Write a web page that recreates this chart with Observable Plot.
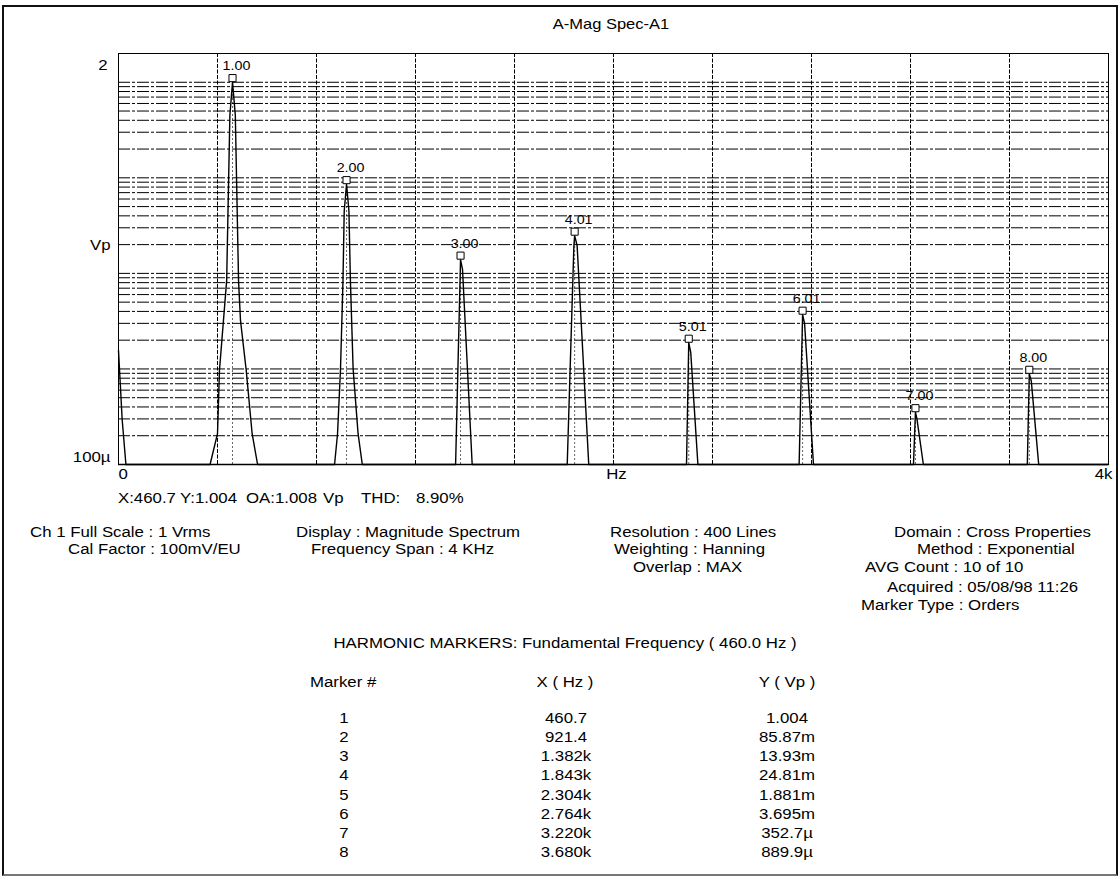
<!DOCTYPE html>
<html><head><meta charset="utf-8">
<script src="https://cdn.jsdelivr.net/npm/d3@7"></script>
<script src="https://cdn.jsdelivr.net/npm/@observablehq/plot@0.6"></script>
<style>
html,body{margin:0;padding:0;background:#fff;}
#page{position:relative;width:1120px;height:876px;overflow:hidden;font-family:"Liberation Sans",Arial,sans-serif;color:#000;background:#fff;}
#frame{position:absolute;left:2px;top:5px;width:1112px;height:867px;border:2px solid #111;border-bottom-color:#777;}
.t{position:absolute;white-space:pre;line-height:1;font-size:14px;}
#chart{position:absolute;left:0;top:0;}
</style></head>
<body>
<div id="page"><div id="frame"></div><div id="chart"></div></div>
<script>
// ---- data ----
const chartTitle = "A-Mag Spec-A1";
// spectrum trace (Hz, Vp); values below the 100µ floor run along the bottom
const specFreq = [0, 15, 30,
  370, 400, 408, 424, 437, 450, 460.7, 472, 485, 493, 516, 540, 562,
  873, 885, 897, 907, 912, 921.4, 931, 937, 948, 968, 985,
  1362, 1382, 1390, 1429,
  1813, 1840, 1843, 1853, 1900,
  2295, 2304, 2312, 2341,
  2750, 2764, 2772, 2808,
  3212, 3220, 3226, 3252,
  3672, 3680, 3688, 3718,
  4000];
const specAmp = [1.56e-3, 2.9e-4, 1e-4,
  1e-4, 2.1e-4, 9.7e-4, 3.2e-3, 8.4e-3, 0.45, 1.004, 0.45, 8.4e-3, 3.2e-3, 9.7e-4, 2.1e-4, 1e-4,
  1e-4, 2.1e-4, 1.0e-3, 8.4e-3, 0.045, 0.0859, 0.045, 8.4e-3, 1.0e-3, 2.1e-4, 1e-4,
  1e-4, 0.01393, 0.011, 1e-4,
  1e-4, 0.0196, 0.02481, 0.0196, 1e-4,
  1e-4, 1.881e-3, 1.5e-3, 1e-4,
  1e-4, 3.695e-3, 3.0e-3, 1e-4,
  1e-4, 3.527e-4, 3.0e-4, 1e-4,
  1e-4, 8.899e-4, 7.5e-4, 1e-4,
  1e-4];
// harmonic markers
const markerNum = ["1","2","3","4","5","6","7","8"];
const markerFreq = [460.7, 921.4, 1382, 1843, 2304, 2764, 3220, 3680];
const markerAmp = [1.004, 85.87e-3, 13.93e-3, 24.81e-3, 1.881e-3, 3.695e-3, 352.7e-6, 889.9e-6];
const markerLabels = ["1.00","2.00","3.00","4.01","5.01","6.01","7.00","8.00"];
const tableX = ["460.7","921.4","1.382k","1.843k","2.304k","2.764k","3.220k","3.680k"];
const tableY = ["1.004","85.87m","13.93m","24.81m","1.881m","3.695m","352.7µ","889.9µ"];
// axes
const xDomain = [0, 4000];
const yDomain = [1e-4, 2];
const xGridValues = [400, 800, 1200, 1600, 2000, 2400, 2800, 3200, 3600];
const xTickValues = [0, 4000];
const xTickLabels = ["0", "4k"];
const xAxisLabel = "Hz";
const yTickValues = [2, 1e-4];
const yTickLabels = ["2", "100µ"];
const yAxisLabel = "Vp";
// readout & info
const readout = ["X:460.7", "Y:1.004", "OA:1.008", "Vp", "THD:", "8.90%"];
const infoCol1 = ["Ch 1 Full Scale : 1 Vrms", "Cal Factor : 100mV/EU"];
const infoCol2 = ["Display : Magnitude Spectrum", "Frequency Span : 4 KHz"];
const infoCol3 = ["Resolution : 400 Lines", "Weighting : Hanning", "Overlap : MAX"];
const infoCol4 = ["Domain : Cross Properties", "Method : Exponential", "AVG Count : 10 of 10", "Acquired : 05/08/98 11:26", "Marker Type : Orders"];
const tableTitle = "HARMONIC MARKERS: Fundamental Frequency ( 460.0 Hz )";
const tableHeaders = ["Marker #", "X ( Hz )", "Y ( Vp )"];

// ---- build ----
const spec = specFreq.map((f, i) => ({f, a: specAmp[i]}));
const markers = markerFreq.map((f, i) => ({f, a: markerAmp[i], label: markerLabels[i]}));
const yGrid = d3.scaleLog().domain(yDomain).ticks().filter(v => v <= 2 && v >= 1e-4);
const xTicks = xTickValues.map((v, i) => ({v, s: xTickLabels[i]}));

const chart = Plot.plot({
  width: 1120, height: 490,
  marginLeft: 118, marginRight: 12, marginTop: 53, marginBottom: 26,
  x: {domain: xDomain, axis: null},
  y: {type: "log", domain: yDomain, axis: null},
  style: {fontFamily: '"Liberation Sans", Arial, sans-serif', fontSize: "14px", background: "transparent", color: "#000", overflow: "visible"},
  marks: [
    Plot.ruleY(yGrid, {stroke: "#000", strokeWidth: 1, strokeDasharray: "12,2,3,2", strokeOpacity: 1}),
    Plot.ruleX(xGridValues, {stroke: "#000", strokeWidth: 1, strokeDasharray: "4,1.5", strokeOpacity: 1}),
    Plot.ruleX(markers, {x: "f", y1: 1e-4, y2: "a", stroke: "#000", strokeDasharray: "2,2", strokeOpacity: 0.6}),
    Plot.line(spec, {x: "f", y: "a", stroke: "#000", strokeWidth: 1.4}),
    Plot.frame({stroke: "#000", strokeWidth: 1}),
    Plot.ruleY([1e-4], {stroke: "#000", strokeWidth: 1.5}),
    Plot.dot(markers, {x: "f", y: "a", symbol: "square", r: 4, stroke: "#000", fill: "#fff", strokeWidth: 1, dy: -4}),
    Plot.text(markers, {x: "f", y: "a", text: "label", dy: -16, dx: 4, fontSize: 13}),
    Plot.text([xTicks[0]], {x: "v", text: "s", frameAnchor: "bottom", textAnchor: "start", dy: 14}),
    Plot.text([xTicks[1]], {x: "v", text: "s", frameAnchor: "bottom", textAnchor: "end", dx: 4, dy: 14}),
    Plot.text([xAxisLabel], {frameAnchor: "bottom", text: d => d, dy: 14, dx: 3}),
    Plot.text([yTickValues[0]], {y: d => d, text: () => yTickLabels[0], frameAnchor: "left", textAnchor: "end", dx: -11, dy: 12}),
    Plot.text([yTickValues[1]], {y: d => d, text: () => yTickLabels[1], frameAnchor: "left", textAnchor: "end", dx: -8, dy: -7}),
    Plot.text([yAxisLabel], {frameAnchor: "left", text: d => d, textAnchor: "end", dx: -8, dy: -13})
  ]
});
document.getElementById("chart").appendChild(chart);
// widen glyphs like the original instrument font (scale about each text's own anchor point)
chart.querySelectorAll("text").forEach(t => {
  const gf = t.closest("[font-size]");
  const fs = gf ? gf.getAttribute("font-size") : "14";
  const sx = fs === "13" ? 1.1 : 1.2;
  const tr = t.getAttribute("transform");
  if (tr) {
    t.setAttribute("transform", tr + ` scale(${sx},1)`);
  } else {
    const x = +(t.getAttribute("x") || 0);
    t.setAttribute("transform", `translate(${x},0) scale(${sx},1) translate(${-x},0)`);
  }
});

const page = document.getElementById("page");
function place(txt, x, y, anchor = "start", size = 14, sx = 1.2) {
  const d = document.createElement("div");
  d.className = "t";
  d.textContent = txt;
  d.style.left = x + "px";
  d.style.top = y + "px";
  d.style.fontSize = size + "px";
  const tx = anchor === "start" ? "0" : anchor === "end" ? "-100%" : "-50%";
  d.style.transformOrigin = anchor === "start" ? "left center" : anchor === "end" ? "right center" : "center center";
  d.style.transform = `translate(${tx},-50%) scaleX(${sx})`;
  page.appendChild(d);
}
place(chartTitle, 611, 23, "middle", 15, 1.1);
[118, 180, 246, 323, 361, 416].forEach((x, i) => place(readout[i], x, 498));
const rowY = [531.5, 549, 567, 587, 605];
[30, 68].forEach((x, i) => place(infoCol1[i], x, rowY[i]));
[296, 311].forEach((x, i) => place(infoCol2[i], x, rowY[i]));
[610, 614, 633].forEach((x, i) => place(infoCol3[i], x, rowY[i]));
[894, 917, 865, 887, 861].forEach((x, i) => place(infoCol4[i], x, rowY[i]));
place(tableTitle, 565, 643, "middle");
place(tableHeaders[0], 310, 682, "start");
place(tableHeaders[1], 565, 682, "middle");
place(tableHeaders[2], 787, 682, "middle");
markerNum.forEach((n, i) => {
  const y = 718.3 + i * 19.05;
  place(n, 343.5, y, "middle");
  place(tableX[i], 566, y, "middle");
  place(tableY[i], 787, y, "middle");
});
</script>
</body></html>
